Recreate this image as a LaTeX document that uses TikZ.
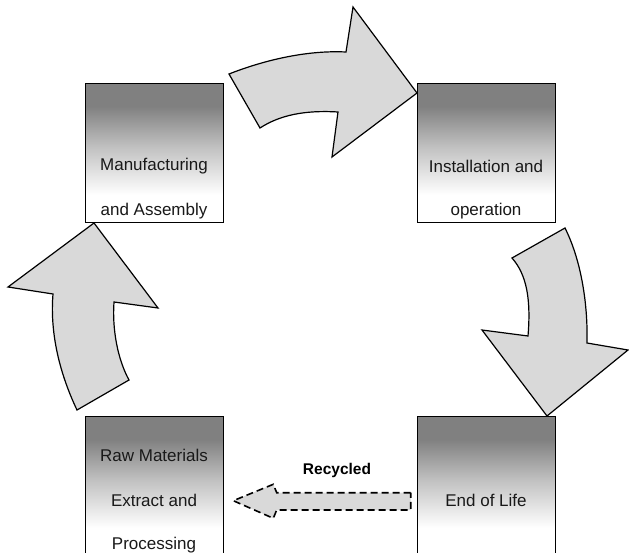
\documentclass[tikz,border=0pt]{standalone}
\usepackage{fontspec}
\setmainfont{Liberation Sans}
\pgfdeclareverticalshading{boxshade}{100bp}{color(0bp)=(white); color(25bp)=(white); color(35bp)=(white); color(52bp)=(black!24); color(67bp)=(black!50); color(75bp)=(black!50); color(100bp)=(black!50)}
\definecolor{arrowgray}{HTML}{D9D9D9}
\begin{document}
\begin{tikzpicture}[x=1pt,y=-1pt,
  stage/.style={draw=black, line width=1.4pt, shading=boxshade, minimum width=138pt, minimum height=139pt, anchor=north west, inner sep=0pt},
  stagetext/.style={font=\fontsize{17}{20}\selectfont, text=black!90, inner sep=0pt},
  bigarrow/.style={draw=black, line width=1.2pt, fill=arrowgray, line join=miter},
  recarrow/.style={draw=black, line width=1.6pt, fill=arrowgray, dash pattern=on 7pt off 4pt}]
\useasboundingbox (0,0) rectangle (629,553);
\clip (0,0) rectangle (629,553);
% boxes
\node[stage] (manu) at (85,83) {};
\node[stage] (inst) at (417,83) {};
\node[stage] (raw) at (85,416) {};
\node[stage] (eol) at (417,416) {};
% texts
\node[stagetext] (t1) at (154,166.5) {Manufacturing};
\node[stagetext] (t2) at (154,211) {and Assembly};
\node[stagetext] (t3) at (486,166.5) {Installation and};
\node[stagetext] (t4) at (486,211) {operation};
\node[stagetext] (t5) at (154,455) {Raw Materials};
\node[stagetext] (t6) at (154,500) {Extract and};
\node[stagetext] (t7) at (154,545) {Processing};
\node[stagetext] (t8) at (486,500) {End of Life};
\node[font=\bfseries\fontsize{15.5}{18}\selectfont, inner sep=0pt] (rec) at (337,470) {Recycled};
% top arrow
\draw[bigarrow] (229,74) .. controls (262,61) and (305,50) .. (346,52)
  -- (353,7) -- (417,93) -- (332,157) -- (338,112)
  .. controls (305,110) and (280,115) .. (260,128) -- cycle;
% right arrow
\draw[bigarrow] (512,258) -- (565,228)
  .. controls (580,258) and (588,300) .. (587,343)
  -- (628,350) -- (547,416) -- (482,330) -- (528,336)
  .. controls (531,300) and (527,275) .. (512,258) -- cycle;
% left arrow
\draw[bigarrow] (94,223) -- (158,308) -- (114,302)
  .. controls (112,330) and (118,360) .. (129,380)
  -- (77,410)
  .. controls (58,370) and (50,330) .. (53,294)
  -- (8,287) -- cycle;
% recycled arrow
\draw[recarrow] (410.7,492.7) -- (276.7,492.7) -- (273.3,484.3) -- (233.3,500.7)
  -- (273.3,518.3) -- (276.7,510) -- (410.7,510) -- cycle;
\end{tikzpicture}
\end{document}
